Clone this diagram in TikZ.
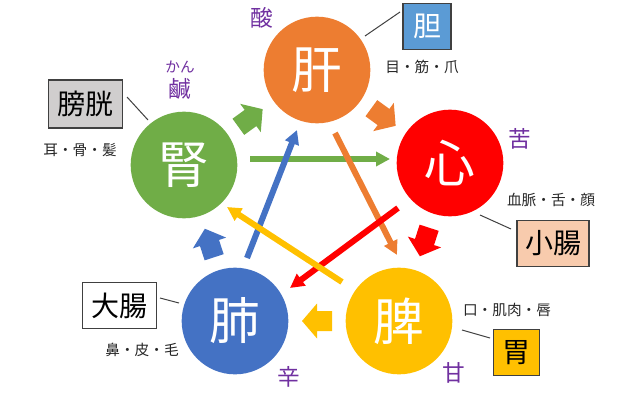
\documentclass[tikz,border=0pt]{standalone}
\usepackage{fontspec}
\setmainfont{Noto Sans CJK JP}
\usetikzlibrary{arrows.meta}
\definecolor{cOrange}{HTML}{ED7D31}
\definecolor{cRed}{HTML}{FF0000}
\definecolor{cYellow}{HTML}{FFC000}
\definecolor{cBlue}{HTML}{4472C4}
\definecolor{cGreen}{HTML}{70AD47}
\definecolor{cPurple}{HTML}{7030A0}
\definecolor{cBoxBlue}{HTML}{5B9BD5}
\definecolor{cBoxGray}{HTML}{D0CECE}
\definecolor{cPeach}{HTML}{F8CBAD}
\definecolor{cBorder}{HTML}{404040}
\begin{document}
\begin{tikzpicture}[x=0.75pt,y=-0.75pt,
  organ/.style={circle, minimum size=80pt, inner sep=0pt, text=white, font=\fontsize{38}{40}\selectfont},
  fu/.style={draw=cBorder, line width=0.9pt, inner sep=0pt, font=\fontsize{21}{23}\selectfont},
  sense/.style={font=\fontsize{11}{13}\selectfont, text=black!85},
  taste/.style={font=\fontsize{17}{19}\selectfont, text=cPurple},
  link/.style={draw=black!75, line width=0.75pt},
  ke/.style={line width=4.5pt, -{Triangle[length=10.5pt,width=10.5pt]}},
  seikei/.pic={\fill (-15,-10) -- (0,-10) -- (0,-17.5) -- (15,0) -- (0,17.5) -- (0,10) -- (-15,10) -- cycle;}
]
\useasboundingbox (0,0) rectangle (641,410);

% organs
\node[organ, fill=cOrange] (liver)  at (317,70)  {肝};
\node[organ, fill=cRed]    (heart)  at (450,163) {心};
\node[organ, fill=cYellow] (spleen) at (399,321) {脾};
\node[organ, fill=cBlue]   (lung)   at (235,321) {肺};
\node[organ, fill=cGreen]  (kidney) at (184,165) {腎};

% generating cycle (block arrows)
\pic[cGreen, rotate=36]    at (250.5,118) {seikei};
\pic[cOrange, rotate=-36]  at (383.5,117) {seikei};
\pic[cRed, rotate=-108]    at (424.5,242) {seikei};
\pic[cYellow, rotate=180]  at (317,321)   {seikei};
\pic[cBlue, rotate=108]    at (209.5,243) {seikei};

% controlling cycle (thin arrows)
\coordinate (gA) at (250,159); \coordinate (gB) at (390,159);
\coordinate (bA) at (247,258); \coordinate (bB) at (297,130);
\coordinate (oA) at (335,133); \coordinate (oB) at (397,255);
\coordinate (rA) at (398,208); \coordinate (rB) at (290,288);
\coordinate (yA) at (342,282); \coordinate (yB) at (227,207);
\draw[ke, cGreen]  (gA) -- (gB);
\draw[ke, cBlue]   (bA) -- (bB);
\draw[ke, cOrange] (oA) -- (oB);
\draw[ke, cRed]    (rA) -- (rB);
\draw[ke, cYellow] (yA) -- (yB);

% fu organs
\node[fu, fill=cBoxBlue, text=white, minimum width=36pt, minimum height=35pt] (gall) at (427,26.5) {胆};
\node[fu, fill=cBoxGray, minimum width=55pt, minimum height=36pt] (bladder) at (85.5,104) {膀胱};
\node[fu, fill=cPeach, minimum width=54pt, minimum height=35pt] (small) at (553,243.5) {小腸};
\node[fu, fill=white, minimum width=55pt, minimum height=35pt] (large) at (119.5,305.5) {大腸};
\node[fu, fill=cYellow, minimum width=35pt, minimum height=35pt] (stomach) at (516.5,352.5) {胃};

% link lines
\coordinate (l1a) at (400,12);  \coordinate (l1b) at (365,36);
\coordinate (l2a) at (127,97);  \coordinate (l2b) at (148,120);
\coordinate (l3a) at (480,215); \coordinate (l3b) at (511,229);
\coordinate (l4a) at (160,298); \coordinate (l4b) at (179,303);
\coordinate (l5a) at (462,330); \coordinate (l5b) at (490,338);
\draw[link] (l1a) -- (l1b);
\draw[link] (l2a) -- (l2b);
\draw[link] (l3a) -- (l3b);
\draw[link] (l4a) -- (l4b);
\draw[link] (l5a) -- (l5b);

% sense organs
\node[sense] (s1) at (422,67)  {目・筋・爪};
\node[sense] (s2) at (80,150)  {耳・骨・髪};
\node[sense] (s3) at (551,200) {血脈・舌・顔};
\node[sense] (s4) at (142,350) {鼻・皮・毛};
\node[sense] (s5) at (507,310) {口・肌肉・唇};

% tastes
\node[taste] (t1) at (262,18)  {酸};
\node[taste, font=\fontsize{11}{13}\selectfont] (t2a) at (180,67) {かん};
\node[taste] (t2) at (180,89)  {鹹};
\node[taste] (t3) at (520,139) {苦};
\node[taste] (t4) at (454,373) {甘};
\node[taste] (t5) at (289,377) {辛};
\end{tikzpicture}
\end{document}
